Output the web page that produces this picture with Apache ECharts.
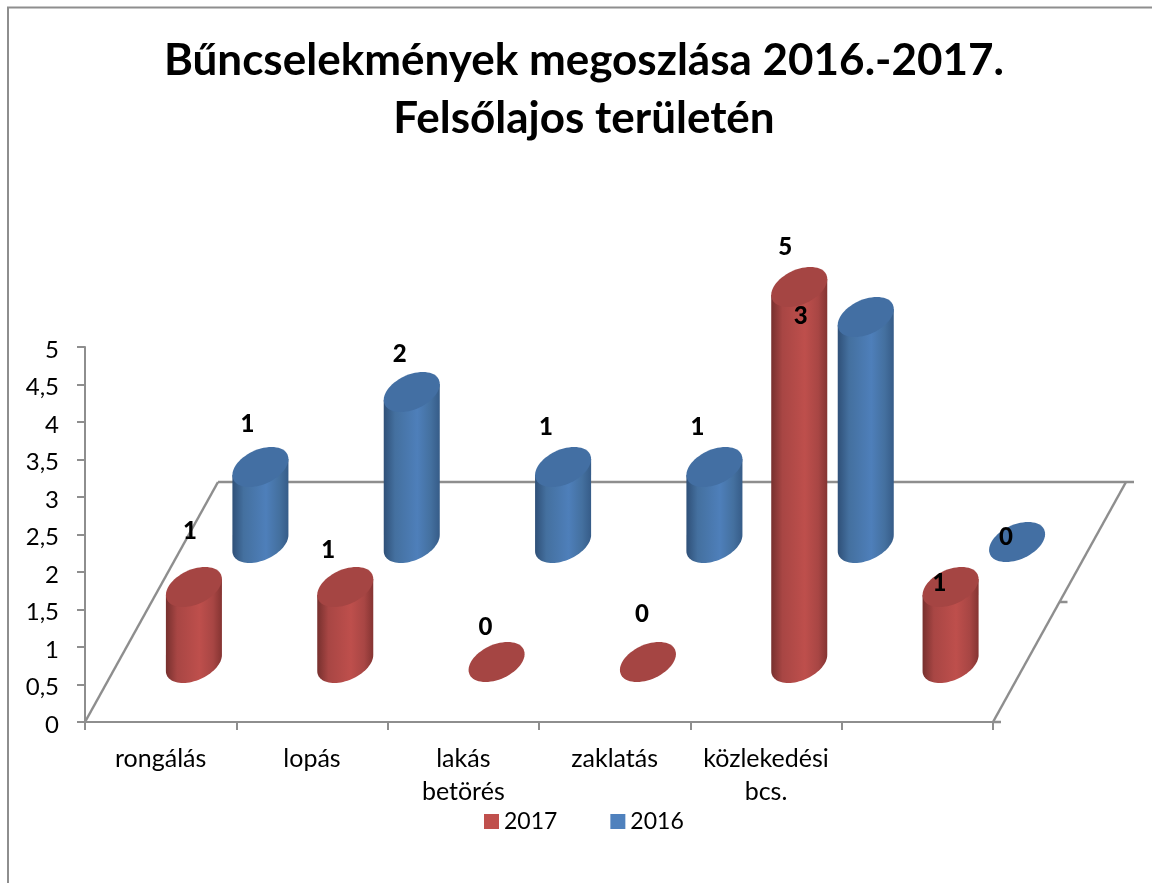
<!DOCTYPE html>
<html>
<head>
<meta charset="utf-8">
<title>Bűncselekmények megoszlása</title>
<script src="https://cdn.jsdelivr.net/npm/echarts@6/dist/echarts.min.js"></script>
<style>
  html, body { margin: 0; padding: 0; background: #fff; }
  #chart { width: 1152px; height: 883px; }
</style>
</head>
<body>
<div id="chart"></div>
<script>
const FONT = 'Lato, "Open Sans", sans-serif'
const TITLE = 'Bűncselekmények megoszlása 2016.-2017.\nFelsőlajos területén'
const categories = ['rongálás', 'lopás', 'lakás\nbetörés', 'zaklatás', 'közlekedési\nbcs.', '']
const values2017 = [1, 1, 0, 0, 5, 1]
const values2016 = [1, 2, 1, 1, 3, 0]

// hand-placed data labels in the original, offset from each cylinder's top centre
const labelNudge2017 = [[-4, -57], [-17, -38], [-11, -36], [-6, -49], [-14, -41], [-11, -5]]
const labelNudge2016 = [[-13, -44], [-12, -39], [-17, -41], [-17, -41], [-65, -2], [-11, -6]]

const AXIS = '#8e8e8e'
const FLOOR_DX = 133   // how far the floor's back edge is shifted from the front edge
const FLOOR_DY = 240

// Point on the tilted cap ellipse: one half-axis along x, the other along the floor's depth
function capPoint(cx, cy, ax, theta) {
  const bx = FLOOR_DX / 12, by = FLOOR_DY / 12
  return [cx + ax * Math.cos(theta) + bx * Math.sin(theta), cy - by * Math.sin(theta)]
}

function cylinderSeries(name, data, nudges, depth, colors) {
  return {
    name,
    type: 'custom',
    coordinateSystem: 'cartesian2d',
    data: data.map((v, i) => [i, v]),
    encode: { x: 0, y: 1 },
    itemStyle: { color: colors.legend },
    silent: true,
    renderItem(params, api) {
      const i = api.value(0)
      const base = api.coord([i, 0])
      const top = api.coord([i, api.value(1)])
      const ax = api.size([1, 0])[0] * 0.17
      const dx = FLOOR_DX * depth, dy = FLOOR_DY * depth
      const cx = base[0] + dx, baseY = base[1] - dy, topY = top[1] - dy
      const theta0 = Math.atan2(FLOOR_DX / 12, ax)
      const children = []

      if (api.value(1) > 0) {
        const shaft = []
        for (let k = 0; k <= 40; k++) shaft.push(capPoint(cx, baseY + 1, ax, theta0 - Math.PI * k / 40))
        shaft.push(capPoint(cx, topY, ax, theta0 - Math.PI))
        shaft.push(capPoint(cx, topY, ax, theta0))
        children.push({
          type: 'polygon',
          shape: { points: shaft },
          style: {
            fill: new echarts.graphic.LinearGradient(0, 0, 1, 0, [
              { offset: 0, color: colors.edgeL },
              { offset: 0.2, color: colors.mid },
              { offset: 0.6, color: colors.light },
              { offset: 0.84, color: colors.mid },
              { offset: 1, color: colors.edgeR }
            ])
          }
        })
      }
      const cap = []
      for (let k = 0; k < 64; k++) cap.push(capPoint(cx, topY, ax, Math.PI * 2 * k / 64))
      children.push({ type: 'polygon', shape: { points: cap }, style: { fill: colors.cap } })

      const n = nudges[params.dataIndex]
      children.push({
        type: 'text',
        z2: 100,
        style: {
          text: String(api.value(1)),
          x: cx + n[0],
          y: topY + n[1] + 1,
          align: 'center',
          verticalAlign: 'middle',
          fill: '#000',
          font: '900 24px ' + FONT
        }
      })
      return { type: 'group', children }
    }
  }
}

const floorSeries = {
  type: 'custom',
  coordinateSystem: 'cartesian2d',
  data: [[0, 0]],
  encode: { x: 0, y: 1 },
  silent: true,
  renderItem(params) {
    const g = params.coordSys
    const x0 = g.x, x1 = g.x + g.width, y = g.y + g.height
    const line = (x1_, y1_, x2_, y2_) => ({
      type: 'line',
      shape: { x1: x1_, y1: y1_, x2: x2_, y2: y2_ },
      style: { stroke: AXIS, lineWidth: 2.5 }
    })
    return {
      type: 'group',
      children: [
        line(x0, y, x0 + FLOOR_DX, y - FLOOR_DY),
        line(x0 + FLOOR_DX, y - FLOOR_DY, x1 + FLOOR_DX + 8, y - FLOOR_DY),
        line(x1, y, x1 + FLOOR_DX, y - FLOOR_DY),
        line(x1, y, x1 + 8, y),
        line(x1 + FLOOR_DX / 2, y - FLOOR_DY / 2, x1 + FLOOR_DX / 2 + 8, y - FLOOR_DY / 2)
      ]
    }
  }
}

const red = { legend: '#c0504d', edgeL: '#77302e', edgeR: '#853432', mid: '#a84644', light: '#be4f4c', cap: '#a54543' }
const blue = { legend: '#4f81bd', edgeL: '#2f5078', edgeR: '#365c88', mid: '#44709f', light: '#4e7fba', cap: '#436fa3' }

const chart = echarts.init(document.getElementById('chart'), null, { renderer: 'canvas' })
chart.setOption({
  animation: false,
  backgroundColor: '#fff',
  textStyle: { fontFamily: FONT },
  title: {
    text: TITLE,
    left: 579,
    top: 27,
    textAlign: 'center',
    textStyle: { fontFamily: FONT, fontSize: 44, fontWeight: 'bold', color: '#000', lineHeight: 58 }
  },
  graphic: [{
    // chart-area border: its right and bottom sides fall off the page
    type: 'rect',
    silent: true,
    z: -1,
    shape: { x: 8, y: 7.5, width: 1300, height: 1000 },
    style: { fill: 'none', stroke: AXIS, lineWidth: 2 }
  }],
  legend: {
    data: ['2017', '2016'],
    left: 479,
    top: 805,
    icon: 'rect',
    itemWidth: 15,
    itemHeight: 15,
    itemGap: 53,
    textStyle: { fontFamily: FONT, fontSize: 23, color: '#000', padding: [0, 0, 0, 0] }
  },
  grid: { left: 85, top: 347, width: 908, height: 375, containLabel: false },
  xAxis: {
    type: 'category',
    data: categories,
    axisLine: { lineStyle: { color: AXIS, width: 2 } },
    axisTick: { show: true, alignWithLabel: false, length: 8, lineStyle: { color: AXIS, width: 2 } },
    axisLabel: { color: '#000', fontSize: 25, lineHeight: 33, margin: 20, interval: 0, fontFamily: FONT }
  },
  yAxis: {
    type: 'value',
    min: 0,
    max: 5,
    interval: 0.5,
    splitLine: { show: false },
    axisLine: { show: true, lineStyle: { color: AXIS, width: 2 } },
    axisTick: { show: true, length: 8, lineStyle: { color: AXIS, width: 2 } },
    axisLabel: {
      color: '#000',
      fontSize: 24,
      margin: 26,
      verticalAlign: 'top',   // thin line box pushes the text ~2px below its tick, as in the original
      lineHeight: 6,
      fontFamily: FONT,
      formatter: v => String(v).replace('.', ',')
    }
  },
  series: [
    floorSeries,
    cylinderSeries('2016', values2016, labelNudge2016, 0.75, blue),
    cylinderSeries('2017', values2017, labelNudge2017, 0.25, red)
  ]
})
window.addEventListener('resize', () => chart.resize())
</script>
</body>
</html>
